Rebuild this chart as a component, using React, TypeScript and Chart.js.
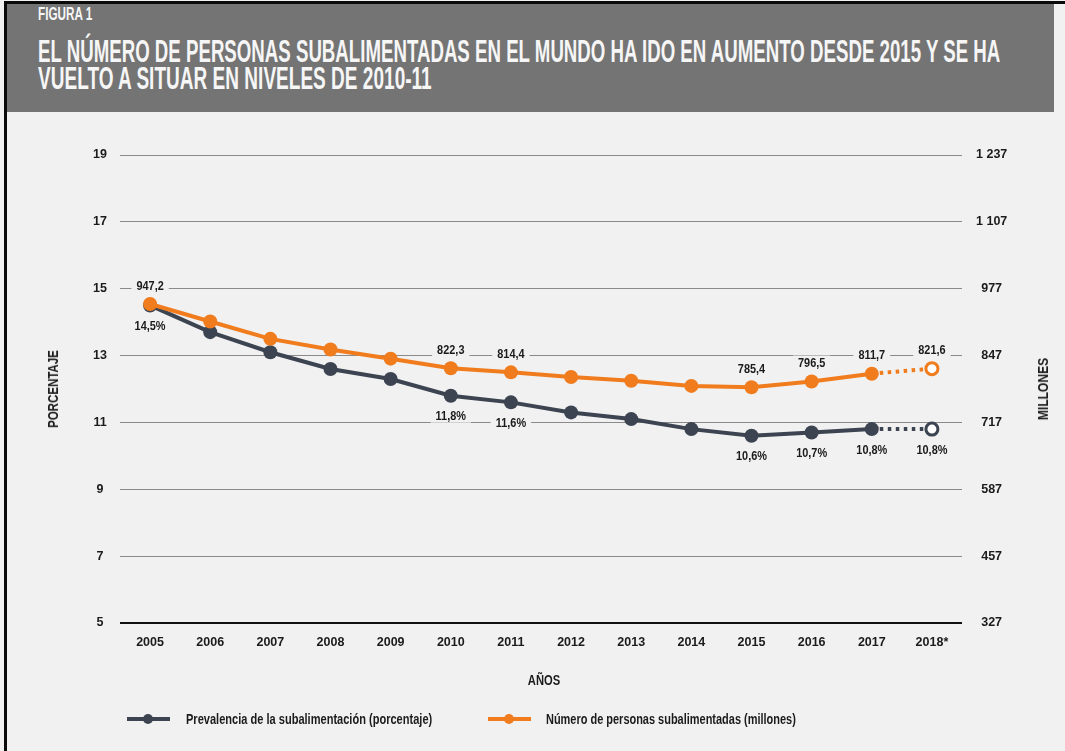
import React, { useEffect, useLayoutEffect, useRef } from 'react';
import { Chart, registerables } from 'chart.js';

Chart.register(...registerables);

// ---- data ----
const years = ['2005', '2006', '2007', '2008', '2009', '2010', '2011', '2012', '2013', '2014', '2015', '2016', '2017', '2018*'];
const prevalence = [14.5, 13.7, 13.1, 12.6, 12.3, 11.8, 11.6, 11.3, 11.1, 10.8, 10.6, 10.7, 10.8, 10.8];
const undernourished = [947.2, 913.3, 879.5, 858.7, 841.0, 822.3, 814.4, 805.2, 798.1, 788.0, 785.4, 796.5, 811.7, 821.6];
const labeledYears = ['2005', '2010', '2011', '2015', '2016', '2017', '2018*'];
const projectedYears = ['2018*'];
const leftTicks = [5, 7, 9, 11, 13, 15, 17, 19];
const rightTicks = [327, 457, 587, 717, 847, 977, 1107, 1237];

const seriesNames = [
  'Prevalencia de la subalimentación (porcentaje)',
  'Número de personas subalimentadas (millones)',
];

const GRAY = '#3c4451';
const ORANGE = '#f07c1e';
const BG = '#f1f1f1';
const FONT = "'Liberation Sans', Arial, sans-serif";

const fmtDec = (v: number) => v.toFixed(1).replace('.', ',');
const fmtThousands = (v: number) => String(v).replace(/\B(?=(\d{3})+(?!\d))/g, ' ');

const isProjected = (i: number) => projectedYears.includes(years[i]);

const labelPlugin = {
  id: 'pointValueLabels',
  afterDatasetsDraw(chart: any) {
    const ctx = chart.ctx;
    const sx = 0.84;
    ctx.save();
    ctx.font = `bold 13px ${FONT}`;
    ctx.textAlign = 'center';
    ctx.textBaseline = 'middle';
    chart.data.datasets.forEach((ds: any, di: number) => {
      const meta = chart.getDatasetMeta(di);
      const above = ds.yAxisID === 'yR';
      years.forEach((yr, i) => {
        if (!labeledYears.includes(yr)) return;
        const el = meta.data[i];
        if (!el) return;
        const v = ds.data[i] as number;
        const text = above ? fmtDec(v) : fmtDec(v) + '%';
        const y = el.y + (above ? -19 : 20);
        const w = ctx.measureText(text).width * sx;
        ctx.fillStyle = BG;
        ctx.fillRect(el.x - w / 2 - 5, y - 7, w + 10, 14);
        ctx.save();
        ctx.translate(el.x, y);
        ctx.scale(sx, 1);
        ctx.fillStyle = '#1b1b1b';
        ctx.fillText(text, 0, 1);
        ctx.restore();
      });
    });
    ctx.restore();
  },
};

// Text fitted to a given width (horizontal squeeze), anchored left/top or by its centre, optionally rotated
function Txt(props: {
  text: string;
  x: number;
  y: number;
  width: number;
  center?: boolean;
  rotate?: number;
  style?: React.CSSProperties;
}) {
  const ref = useRef<HTMLSpanElement>(null);
  useLayoutEffect(() => {
    const el = ref.current;
    if (!el) return;
    const w = el.offsetWidth;
    const s = w > 0 ? props.width / w : 1;
    const rot = props.rotate || 0;
    el.style.transform = props.center
      ? `translate(${props.x}px, ${props.y}px) rotate(${rot}deg) scaleX(${s}) translate(-50%, -50%)`
      : `translate(${props.x}px, ${props.y}px) rotate(${rot}deg) scaleX(${s})`;
  }, [props.text, props.width, props.x, props.y]);
  return (
    <span
      ref={ref}
      style={{
        position: 'absolute',
        left: 0,
        top: 0,
        whiteSpace: 'nowrap',
        transformOrigin: '0 0',
        ...props.style,
      }}
    >
      {props.text}
    </span>
  );
}

function LegendSymbol(props: { left: number; top: number; color: string }) {
  return (
    <div style={{ position: 'absolute', left: props.left, top: props.top, width: 43, height: 12 }}>
      <div style={{ position: 'absolute', left: 0, top: 4, width: 43, height: 4, background: props.color }} />
      <div
        style={{
          position: 'absolute',
          left: 16,
          top: 1,
          width: 10,
          height: 10,
          borderRadius: '50%',
          background: props.color,
        }}
      />
    </div>
  );
}

export default function App() {
  const canvasRef = useRef<HTMLCanvasElement>(null);

  useLayoutEffect(() => {
    document.body.style.margin = '0';
  }, []);

  useEffect(() => {
    const canvas = canvasRef.current;
    if (!canvas) return;
    const tickFont = { family: FONT, size: 12.5, weight: 'bold' as const };
    const makeDs = (label: string, data: number[], axis: string, color: string, order: number) => ({
      label,
      data,
      yAxisID: axis,
      order,
      borderColor: color,
      borderWidth: 4,
      tension: 0,
      pointRadius: years.map((_, i) => (isProjected(i) ? 6 : 7)),
      pointBackgroundColor: years.map((_, i) => (isProjected(i) ? '#ffffff' : color)),
      pointBorderColor: color,
      pointBorderWidth: years.map((_, i) => (isProjected(i) ? 3 : 0)),
      segment: {
        borderDash: (c: any) => (isProjected(c.p1DataIndex) ? [3.5, 4.5] : undefined),
      },
    });
    const chart = new Chart(canvas, {
      type: 'line',
      data: {
        labels: years,
        datasets: [
          makeDs(seriesNames[0], prevalence, 'y', GRAY, 1),
          makeDs(seriesNames[1], undernourished, 'yR', ORANGE, 0),
        ],
      },
      options: {
        responsive: false,
        animation: false,
        layout: { padding: { top: 155, left: 60, right: 53, bottom: 88 } },
        plugins: {
          legend: { display: false },
          tooltip: { enabled: false },
        },
        scales: {
          x: {
            type: 'category',
            offset: true,
            grid: { display: false, drawTicks: false },
            border: { display: false },
            ticks: {
              padding: 12,
              color: '#1b1b1b',
              font: tickFont,
              maxRotation: 0,
              autoSkip: false,
            },
            afterFit: (s: any) => {
              s.height = 40;
            },
          },
          y: {
            type: 'linear',
            position: 'left',
            min: leftTicks[0],
            max: leftTicks[leftTicks.length - 1],
            afterBuildTicks: (s: any) => {
              s.ticks = leftTicks.map((v) => ({ value: v }));
            },
            grid: {
              drawTicks: false,
              color: (c: any) => (c.tick && c.tick.value === leftTicks[0] ? '#111111' : '#8a8a8a'),
              lineWidth: (c: any) => (c.tick && c.tick.value === leftTicks[0] ? 2 : 1),
            },
            border: { display: false },
            ticks: {
              padding: 13,
              crossAlign: 'center',
              color: '#1b1b1b',
              font: tickFont,
            },
            afterFit: (s: any) => {
              s.width = 60;
            },
          },
          yR: {
            type: 'linear',
            position: 'right',
            min: rightTicks[0],
            max: rightTicks[rightTicks.length - 1],
            afterBuildTicks: (s: any) => {
              s.ticks = rightTicks.map((v) => ({ value: v }));
            },
            grid: { display: false, drawTicks: false },
            border: { display: false },
            ticks: {
              padding: 14,
              crossAlign: 'center',
              color: '#1b1b1b',
              font: tickFont,
              callback: (v: any) => fmtThousands(Number(v)),
            },
            afterFit: (s: any) => {
              s.width = 50;
            },
          },
        },
      } as any,
      plugins: [labelPlugin],
    });
    return () => chart.destroy();
  }, []);

  const titleStyle: React.CSSProperties = {
    color: '#f6f6f6',
    fontFamily: FONT,
    fontWeight: 'bold',
    lineHeight: 1,
  };
  const darkText: React.CSSProperties = { color: '#1b1b1b', fontFamily: FONT, fontWeight: 'bold', lineHeight: 1 };

  return (
    <div style={{ position: 'relative', width: 1065, height: 751, background: BG, overflow: 'hidden' }}>
      {/* frame lines */}
      <div style={{ position: 'absolute', left: 4, top: 1, width: 1061, height: 3, background: '#0a0a0a' }} />
      <div style={{ position: 'absolute', left: 4, top: 1, width: 3, height: 750, background: '#0a0a0a' }} />
      {/* banner */}
      <div style={{ position: 'absolute', left: 7, top: 4, width: 1047, height: 108, background: '#747474' }} />
      <Txt text="FIGURA 1" x={38} y={5} width={54} style={{ ...titleStyle, fontSize: 18 }} />
      <Txt
        text="EL NÚMERO DE PERSONAS SUBALIMENTADAS EN EL MUNDO HA IDO EN AUMENTO DESDE 2015 Y SE HA"
        x={38}
        y={35}
        width={962}
        style={{ ...titleStyle, fontSize: 32 }}
      />
      <Txt
        text="VUELTO A SITUAR EN NIVELES DE 2010-11"
        x={38}
        y={62}
        width={394}
        style={{ ...titleStyle, fontSize: 32 }}
      />

      <canvas
        ref={canvasRef}
        width={1065}
        height={751}
        style={{ position: 'absolute', left: 0, top: 0, width: 1065, height: 751 }}
      />

      {/* axis titles */}
      <Txt text="PORCENTAJE" x={53} y={389} width={78} center rotate={-90} style={{ ...darkText, fontSize: 14 }} />
      <Txt text="MILLONES" x={1043} y={389} width={62} center rotate={-90} style={{ ...darkText, fontSize: 14 }} />
      <Txt text="AÑOS" x={544} y={680} width={32} center style={{ ...darkText, fontSize: 14 }} />

      {/* legend */}
      <LegendSymbol left={127} top={713} color={GRAY} />
      <Txt text={seriesNames[0]} x={186} y={711} width={246} style={{ ...darkText, fontSize: 15 }} />
      <LegendSymbol left={488} top={713} color={ORANGE} />
      <Txt text={seriesNames[1]} x={546} y={711} width={250} style={{ ...darkText, fontSize: 15 }} />
    </div>
  );
}
